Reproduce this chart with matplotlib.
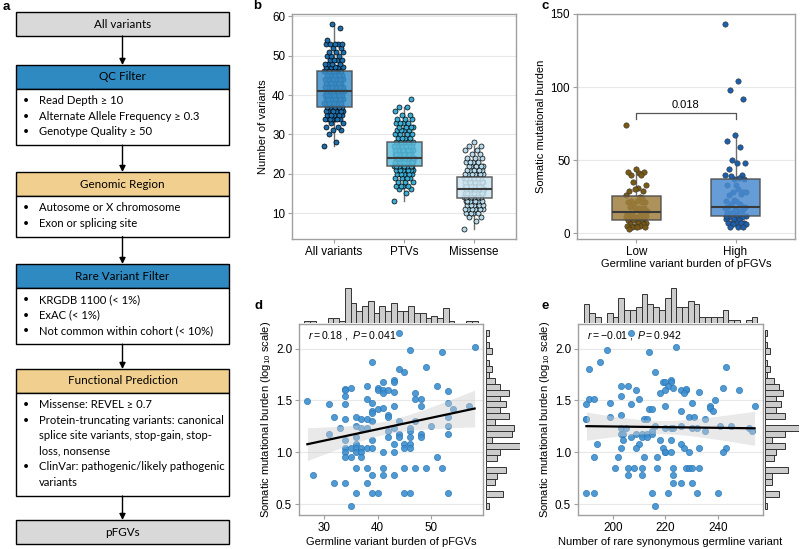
import numpy as np
import matplotlib.pyplot as plt
from matplotlib.patches import Rectangle

plt.rcParams['font.family'] = ['Liberation Sans', 'DejaVu Sans']
plt.rcParams['mathtext.fontset'] = 'custom'
plt.rcParams['mathtext.rm'] = 'Liberation Sans'
plt.rcParams['mathtext.it'] = 'Liberation Sans:italic'

# ---------------- data ----------------
# a) filtering workflow
step_titles = ['All variants', 'QC Filter', 'Genomic Region', 'Rare Variant Filter',
               'Functional Prediction', 'pFGVs']
step_colors = ['#d9d9d9', '#2f8ac2', '#f1cf8e', '#2f8ac2', '#f1cf8e', '#d9d9d9']
step_items = [
    [],
    ['Read Depth ≥ 10', 'Alternate Allele Frequency ≥ 0.3', 'Genotype Quality ≥ 50'],
    ['Autosome or X chromosome', 'Exon or splicing site'],
    ['KRGDB 1100 (< 1%)', 'ExAC (< 1%)', 'Not common within cohort (< 10%)'],
    ['Missense: REVEL ≥ 0.7',
     'Protein-truncating variants: canonical\nsplice site variants, stop-gain, stop-\nloss, nonsense',
     'ClinVar: pathogenic/likely pathogenic\nvariants'],
    [],
]

# b) number of variants per sample (value, count)
b_groups = ['All variants', 'PTVs', 'Missense']
all_vals = [27, 28, 30, 31, 32, 33, 34, 35, 36, 37, 38, 39, 40, 41, 42, 43, 44, 45, 46, 47,
            48, 49, 50, 51, 52, 53, 54, 57, 58]
all_cnts = [1, 1, 1, 2, 2, 2, 7, 5, 6, 6, 6, 7, 8, 8, 7, 7, 6, 6, 6, 5,
            4, 4, 3, 3, 2, 5, 1, 1, 1]
ptv_vals = [13, 15, 16, 17, 18, 19, 20, 21, 22, 23, 24, 25, 26, 27, 28, 29, 30, 31, 32, 33,
            34, 35, 36, 37, 39]
ptv_cnts = [1, 1, 2, 4, 3, 4, 6, 8, 11, 12, 14, 9, 8, 8, 7, 4, 4, 4, 4, 4,
            3, 2, 1, 2, 1]
mis_vals = [6, 8, 9, 10, 11, 12, 13, 14, 15, 16, 17, 18, 19, 20, 21, 22, 23, 24, 25, 26, 27, 28]
mis_cnts = [1, 1, 2, 4, 6, 8, 10, 10, 11, 12, 11, 10, 10, 7, 6, 5, 4, 3, 2, 2, 2, 1]

# d) germline pFGV burden vs somatic mutational burden
germ_d = [44, 58, 46, 52, 39, 49, 44, 45, 43, 43, 41, 51, 34, 34, 35, 38, 40, 40, 41, 41,
          42, 43, 53, 47, 34, 38, 47, 48, 27, 31, 34, 39, 40, 41, 43, 48, 53, 54, 57, 39,
          32, 34, 36, 37, 38, 39, 42, 42, 44, 47, 50, 53, 53, 53, 31, 33, 36, 37, 38, 34,
          36, 39, 42, 43, 44, 44, 46, 46, 46, 48, 48, 45, 46, 36, 45, 46, 34, 35, 36, 37,
          38, 39, 34, 36, 37, 34, 35, 37, 41, 43, 51, 36, 38, 41, 45, 47, 49, 52, 28, 39,
          41, 43, 32, 34, 38, 36, 39, 40, 45, 46, 53, 35, 42, 43, 39]
soma_d = [143, 104, 98, 92, 74, 67, 63, 59, 50, 48, 48, 44, 41, 40, 42, 44, 42, 40, 40, 37,
          40, 38, 39, 37, 35, 33, 33, 33, 31, 29, 29, 30, 26, 27, 28, 28, 30, 26, 28, 25,
          22, 21, 22, 21, 21, 20, 23, 22, 20, 20, 18, 22, 18, 15, 15, 17, 18, 17, 17, 13,
          14, 13, 14, 17, 15, 14, 17, 16, 14, 15, 14, 12, 12, 12, 11, 11, 11, 11, 11, 11,
          11, 11, 10, 10, 10, 9, 9, 9, 10, 10, 9, 7, 7, 7, 7, 7, 7, 7, 6, 6,
          6, 6, 5, 5, 5, 4, 4, 4, 4, 4, 4, 3, 16, 12, 24]

# e) rare synonymous germline variants vs somatic mutational burden
syn_e = [207, 224, 198, 214, 195, 191, 243, 216, 203, 206, 209, 203, 210, 191, 193, 190, 199, 207,
         214, 215, 220, 218, 219, 220, 222, 222, 221, 223, 220, 226, 228, 228, 227, 233, 242, 248,
         230, 226, 239, 237, 237, 238, 254, 190, 190, 199, 203, 212, 213, 229, 231, 235, 203, 205,
         203, 204, 209, 211, 213, 215, 216, 215, 220, 222, 223, 226, 230, 232, 235, 241, 245, 252,
         253, 207, 211, 213, 194, 204, 218, 222, 210, 209, 203, 219, 226, 227, 233, 243, 242, 193,
         202, 212, 217, 220, 220, 222, 229, 201, 206, 208, 206, 211, 211, 217, 223, 223, 228, 229,
         230, 233, 223, 226, 230, 190, 193, 215, 221, 232, 240, 216]
soma_e = [143, 104, 98, 92, 74, 63, 67, 59, 44, 44, 40, 35, 33, 33, 33, 29, 30, 29,
          26, 26, 28, 37, 48, 48, 50, 48, 44, 42, 40, 40, 40, 41, 37, 38, 42, 40,
          30, 25, 32, 28, 27, 25, 28, 21, 21, 22, 23, 21, 21, 22, 22, 21, 17, 17,
          15, 15, 15, 15, 15, 15, 18, 16, 17, 17, 17, 18, 17, 17, 16, 18, 18, 17,
          16, 14, 14, 14, 12, 13, 13, 13, 12, 11, 11, 11, 12, 11, 11, 11, 10, 9,
          9, 9, 9, 10, 10, 10, 10, 7, 7, 7, 6, 7, 6, 7, 7, 6, 7, 7,
          7, 7, 5, 5, 5, 4, 4, 4, 4, 4, 4, 3]

d_stat = r'$\mathit{r} = 0.18\ ,\ \mathit{P} = 0.041$'
e_stat = r'$\mathit{r} = -0.01\ ,\ \mathit{P} = 0.942$'
c_groups = ['Low', 'High']
c_pvalue = '0.018'

# ---------------- figure ----------------
W, H = 800, 549
fig = plt.figure(figsize=(8, 5.49), dpi=100)
TICK_FS = 8.4
LAB_FS = 8.0
FLOW_FS = 8.1


def px_axes(x0, y0, x1, y1, **kw):
    return fig.add_axes([x0 / W, 1 - y1 / H, (x1 - x0) / W, (y1 - y0) / H], **kw)


def gg_style(ax):
    for s in ax.spines.values():
        s.set_color('#a0a0a0')
        s.set_linewidth(1.0)
    ax.tick_params(colors='#a0a0a0', labelcolor='black', labelsize=TICK_FS, length=3,
                   width=0.8, pad=2)
    ax.yaxis.grid(True, color='#e8e8e8', lw=0.8)
    ax.set_axisbelow(True)


def jitter(n, w):
    return ((np.arange(n) * 0.6180339887) % 1 - 0.5) * 2 * w


# ----- a -----
axa = fig.add_axes([0, 0, 1, 1], zorder=0)
axa.set_xlim(0, W)
axa.set_ylim(H, 0)
axa.axis('off')
flow_font = ['Lato', 'DejaVu Sans']
bx0, bx1 = 16, 229
xc = (bx0 + bx1) / 2
head_tops = [12, 65, 172, 264, 369, 520]
head_h = 24
line_h = 15.6
prev_bottom = None
for title, col, items, top in zip(step_titles, step_colors, step_items, head_tops):
    if prev_bottom is not None:
        axa.annotate('', xy=(xc, top), xytext=(xc, prev_bottom),
                     arrowprops=dict(arrowstyle='-|>', color='black', lw=1,
                                     mutation_scale=9, shrinkA=0, shrinkB=0))
    axa.add_patch(Rectangle((bx0, top), bx1 - bx0, head_h, facecolor=col,
                            edgecolor='black', lw=1))
    axa.text(xc, top + head_h / 2, title, ha='center', va='center', fontsize=FLOW_FS + 0.3,
             family=flow_font)
    y = top + head_h
    lines = []
    for item in items:
        for k, ln in enumerate(item.split('\n')):
            lines.append((k == 0, ln))
    if lines:
        body_h = line_h * (len(lines) - 1) + 25
        axa.add_patch(Rectangle((bx0, y), bx1 - bx0, body_h, facecolor='white',
                                edgecolor='black', lw=1))
        for j, (bul, ln) in enumerate(lines):
            ty = y + 11.5 + line_h * j
            if bul:
                axa.text(22.5, ty, '•', ha='left', va='center', fontsize=FLOW_FS - 0.5,
                         family=flow_font)
            axa.text(39, ty, ln, ha='left', va='center', fontsize=FLOW_FS, family=flow_font)
        y += body_h
    prev_bottom = y

# ----- b -----
ax_b = px_axes(292, 14, 516, 239)
gg_style(ax_b)
b_data = [np.repeat(all_vals, all_cnts), np.repeat(ptv_vals, ptv_cnts),
          np.repeat(mis_vals, mis_cnts)]
b_pt_cols = ['#1b6fae', '#3badd5', '#b6daeb']
b_box_cols = ['#3c8fca', '#5dbcdc', '#cbe5f1']
for i, vals in enumerate(b_data):
    pos = i + 1
    ax_b.scatter(pos + jitter(len(vals), 0.14), vals, s=13, c=b_pt_cols[i],
                 edgecolors='black', linewidths=0.5, zorder=2)
    ax_b.boxplot(vals, positions=[pos], widths=0.5, patch_artist=True, showfliers=False,
                 showcaps=False, manage_ticks=False,
                 boxprops=dict(facecolor=b_box_cols[i], alpha=0.85, edgecolor='#4a4a4a',
                               lw=1.1, zorder=3),
                 whiskerprops=dict(color='#707070', lw=1.0, zorder=1),
                 medianprops=dict(color='#3a3a3a', lw=1.5, zorder=4))
ax_b.set_xlim(0.4, 3.6)
ax_b.set_ylim(3.4, 60.6)
ax_b.set_xticks([1, 2, 3])
ax_b.set_xticklabels(b_groups)
ax_b.set_yticks([10, 20, 30, 40, 50, 60])
ax_b.set_ylabel('Number of variants', fontsize=LAB_FS, labelpad=3)

# ----- c (split by germline pFGV burden) -----
germ_arr = np.array(germ_d)
soma_arr = np.array(soma_d)
c_data = [soma_arr[germ_arr <= 40], soma_arr[germ_arr > 40]]
ax_c = px_axes(577, 14, 795, 239)
gg_style(ax_c)
c_pt_cols = ['#7a5a12', '#1c5fae']
c_box_cols = ['#9f7f3e', '#4b8cd0']
for i, vals in enumerate(c_data):
    pos = i + 1
    ax_c.scatter(pos + jitter(len(vals), 0.11), vals, s=15, c=c_pt_cols[i],
                 edgecolors='#333333', linewidths=0.4, zorder=2)
    ax_c.boxplot(vals, positions=[pos], widths=0.5, patch_artist=True, showfliers=False,
                 showcaps=False, manage_ticks=False,
                 boxprops=dict(facecolor=c_box_cols[i], alpha=0.85, edgecolor='#4a4a4a',
                               lw=1.1, zorder=3),
                 whiskerprops=dict(color='#707070', lw=1.0, zorder=1),
                 medianprops=dict(color='#3a3a3a', lw=1.5, zorder=4))
ax_c.plot([1, 1, 2, 2], [78, 82.5, 82.5, 78], color='#555555', lw=0.9)
ax_c.text(1.5, 84, c_pvalue, ha='center', va='bottom', fontsize=LAB_FS)
ax_c.set_xlim(0.4, 2.6)
ax_c.set_ylim(-4, 150)
ax_c.set_xticks([1, 2])
ax_c.set_xticklabels(c_groups)
ax_c.set_yticks([0, 50, 100, 150])
ax_c.set_ylabel('Somatic mutational burden', fontsize=LAB_FS, labelpad=3)
ax_c.set_xlabel('Germline variant burden of pFGVs', fontsize=LAB_FS, labelpad=1)


# ----- d / e scatter with marginal histograms -----
def lm_band(x, y):
    n = len(x)
    b, a = np.polyfit(x, y, 1)
    xs = np.linspace(x.min(), x.max(), 100)
    yh = a + b * xs
    s = np.sqrt(np.sum((y - (a + b * x)) ** 2) / (n - 2))
    se = s * np.sqrt(1 / n + (xs - x.mean()) ** 2 / np.sum((x - x.mean()) ** 2))
    return xs, yh, 1.98 * se


def edges30(v):
    w = (v.max() - v.min()) / 29
    return v.min() - w / 2 + w * np.arange(31)


def scatter_panel(box, top_box, right_box, x, soma, xlim, xticks, xlabel, stat):
    x = np.asarray(x, float)
    y = np.log10(np.asarray(soma, float))
    ax = px_axes(*box)
    gg_style(ax)
    ax.scatter(x, y, s=20, c='#3d8fd0', edgecolors='#2a74b3', linewidths=0.5,
               alpha=0.9, zorder=2)
    xs, yh, ci = lm_band(x, y)
    ax.fill_between(xs, yh - ci, yh + ci, color='#cfcfcf', alpha=0.45, lw=0, zorder=3)
    ax.plot(xs, yh, color='black', lw=1.6, zorder=4)
    ax.set_xlim(*xlim)
    ax.set_ylim(0.394, 2.238)
    ax.set_xticks(xticks)
    ax.set_yticks([0.5, 1.0, 1.5, 2.0])
    ax.set_yticklabels(['0.5', '1.0', '1.5', '2.0'])
    ax.set_xlabel(xlabel, fontsize=LAB_FS, labelpad=2)
    ax.set_ylabel(r'Somatic mutational burden (log$_{10}$ scale)', fontsize=LAB_FS,
                  labelpad=2)
    ax.text(0.05, 0.94, stat, transform=ax.transAxes, fontsize=7.6, va='center')

    axt = px_axes(*top_box)
    axt.hist(x, bins=edges30(x), color='#cccccc', edgecolor='#333333', lw=0.7)
    axt.set_xlim(*xlim)
    axt.margins(y=0)
    axt.axis('off')

    axr = px_axes(*right_box)
    axr.hist(y, bins=edges30(y), orientation='horizontal', color='#cccccc',
             edgecolor='#333333', lw=0.7)
    axr.set_ylim(0.394, 2.238)
    axr.margins(x=0)
    axr.axis('off')


scatter_panel((299, 324, 483, 515), (299, 288, 483, 323), (486, 324, 520, 515),
              germ_d, soma_d, (25.45, 59.55), [30, 40, 50],
              'Germline variant burden of pFGVs', d_stat)
scatter_panel((578, 324, 763, 515), (578, 288, 763, 323), (765, 324, 799, 515),
              syn_e, soma_e, (186.8, 257.2), [200, 220, 240],
              'Number of rare synonymous germline variant', e_stat)

# panel letters
for letter, (px, py) in zip('abcde', [(3, 7), (253, 6), (541, 6), (255, 306), (541, 306)]):
    fig.text(px / W, 1 - py / H, letter, fontsize=9.5, fontweight='bold', ha='left', va='center')

fig.savefig('out.png', dpi=100)
